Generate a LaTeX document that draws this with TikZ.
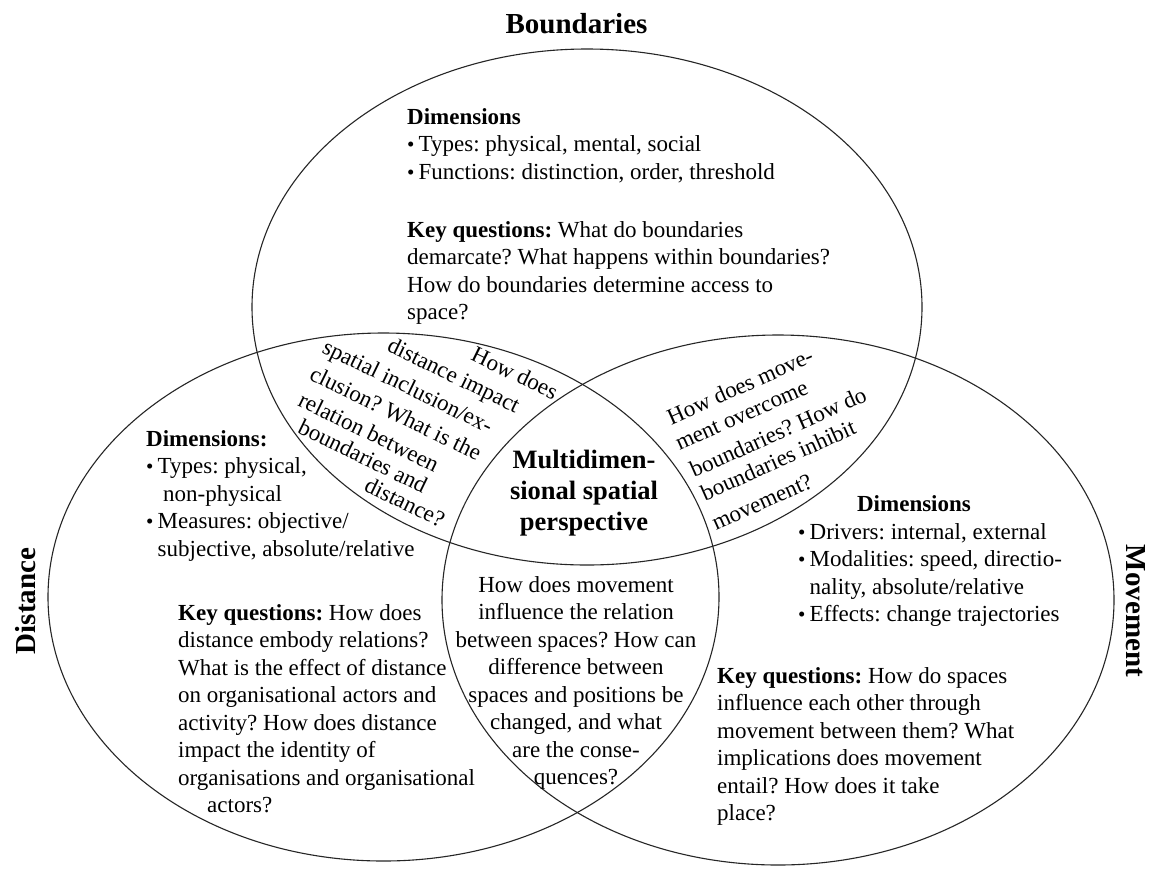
\documentclass[tikz,border=0pt]{standalone}
\usepackage{fontspec}
\setmainfont{Liberation Serif}
\frenchspacing
\newcommand{\bul}{\makebox[11.5pt][l]{\fontsize{21}{21}\selectfont •}}
\newcommand{\fs}{\rule{0pt}{20pt}}
\begin{document}
\begin{tikzpicture}[x=1pt,y=-1pt,
  ring/.style={line width=1.1pt, draw=black!85},
  ttl/.style={inner sep=0pt, font=\fontsize{29}{34}\selectfont\bfseries\frenchspacing},
  txt/.style={inner sep=0pt, font=\fontsize{23}{27.5}\selectfont\frenchspacing, align=left, anchor=north west},
  lens/.style={inner sep=0pt, font=\fontsize{23}{27.5}\selectfont\frenchspacing},
  core/.style={inner sep=0pt, font=\fontsize{26.5}{31}\selectfont\bfseries, align=center, anchor=north}]
\useasboundingbox (0,0) rectangle (1150,871);
\fill[white] (0,0) rectangle (1150,871);
% circles
\draw[ring] (587,307) ellipse [x radius=335, y radius=258];
\draw[ring] (383.5,597) ellipse [x radius=335.5, y radius=264];
\draw[ring] (778,600) ellipse [x radius=336, y radius=265];
% titles
\node[ttl, anchor=base] (tB) at (576.5,33) {Boundaries};
\node[ttl, rotate=90] (tD) at (26,601) {Distance};
\node[ttl, rotate=-90] (tM) at (1136,611) {Movement};
% boundaries
\node[txt] (bdim) at (407,104) {\fs\textbf{Dimensions}\\ \bul Types: physical, mental, social\\ \bul Functions: distinction, order, threshold};
\node[txt] (bkey) at (407,217) {\fs\textbf{Key questions:} What do boundaries\\ demarcate? What happens within boundaries?\\ How do boundaries determine access to\\ space?};
% distance
\node[txt] (ddim) at (146,426) {\fs\textbf{Dimensions:}\\ \bul Types: physical,\\ \hspace*{17pt}non-physical\\ \bul Measures: objective/\\ \hspace*{11.5pt}subjective, absolute/relative};
\node[txt] (dkey) at (178,600) {\fs\textbf{Key questions:} How does\\ distance embody relations?\\ What is the effect of distance\\ on organisational actors and\\ activity? How does distance\\ impact the identity of\\ organisations and organisational\\ \hspace*{29pt}actors?};
% movement
\node[lens, anchor=base] (mdimh) at (914,511.7) {\textbf{Dimensions}};
\node[txt] (mdim) at (798,519) {\fs\bul Drivers: internal, external\\ \bul Modalities: speed, directio-\\ \hspace*{11.5pt}nality, absolute/relative\\ \bul Effects: change trajectories};
\node[txt] (mkey) at (717,663) {\fs\textbf{Key questions:} How do spaces\\ influence each other through\\ movement between them? What\\ implications does movement\\ entail? How does it take\\ place?};
% distance x movement
\node[lens, align=center, anchor=north] (dm) at (576,572) {\fs How does movement\\ influence the relation\\ between spaces? How can\\ difference between\\ spaces and positions be\\ changed, and what\\ are the conse-\\ quences?};
% core
\node[core] (centre) at (584,448.3) {\rule{0pt}{20pt}Multidimen-\\ sional spatial\\ perspective};
% boundaries x distance
\node[lens, rotate=-26] (bd1) at (515,373) {How does};
\node[lens, rotate=-26] (bd2) at (453,377) {distance impact};
\node[lens, rotate=-26] (bd3) at (407,388) {spatial inclusion/ex-};
\node[lens, rotate=-26] (bd4) at (396,413) {clusion? What is the};
\node[lens, rotate=-26] (bd5) at (369,432) {relation between};
\node[lens, rotate=-26] (bd6) at (363,456) {boundaries and};
\node[lens, rotate=-26] (bd7) at (405,502) {distance?};
% boundaries x movement
\node[lens, rotate=24] (bm1) at (740,386) {How does move-};
\node[lens, rotate=24] (bm2) at (742,416) {ment overcome};
\node[lens, rotate=24] (bm3) at (778,432) {boundaries? How do};
\node[lens, rotate=24] (bm4) at (778,460) {boundaries inhibit};
\node[lens, rotate=24] (bm5) at (762,502) {movement?};
\end{tikzpicture}
\end{document}
